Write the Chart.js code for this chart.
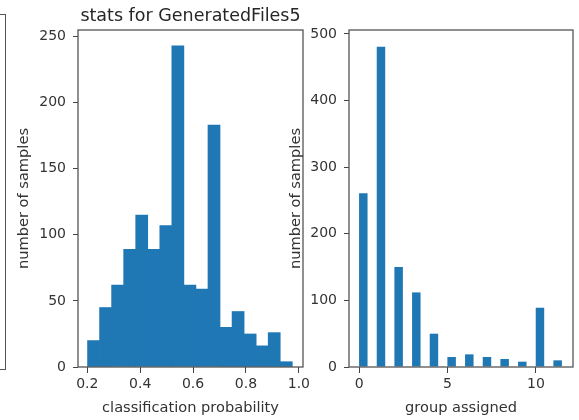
<!DOCTYPE html>
<html>
<head>
<meta charset="utf-8">
<script src="https://cdn.jsdelivr.net/npm/chart.js@4"></script>
<style>
  body { margin: 0; background: #fff; width: 579px; height: 420px; position: relative; overflow: hidden; }
  canvas { position: absolute; top: 0; }
  #leftChart { left: 8px; }
  #rightChart { left: 280px; }
  #cutBox { position: absolute; left: -20px; top: 14px; width: 24px; height: 354px; border: 1.3px solid #555; }
</style>
</head>
<body>
<div id="cutBox"></div>
<canvas id="leftChart" width="315" height="420"></canvas>
<canvas id="rightChart" width="299" height="420"></canvas>
<script>
// classification probability histogram (bin centres)
const probBins = [0.2238, 0.2693, 0.3148, 0.3604, 0.4059, 0.4514, 0.4970, 0.5425, 0.5880,
                  0.6336, 0.6791, 0.7246, 0.7701, 0.8157, 0.8612, 0.9067, 0.9523];
const probCounts = [20, 45, 62, 89, 115, 89, 107, 243, 62, 59, 183, 30, 42, 25, 16, 26, 4];
const probTicksX = [0.2, 0.4, 0.6, 0.8, 1.0];
const probTicksY = [0, 50, 100, 150, 200, 250];

// group assigned histogram (bar centres)
const groupBins = [0.23, 1.23, 2.23, 3.23, 4.23, 5.23, 6.23, 7.23, 8.23, 9.23, 10.23, 11.23];
const groupCounts = [261, 481, 150, 112, 50, 15, 19, 15, 12, 8, 89, 10];
const groupTicksX = [0, 5, 10];
const groupTicksY = [0, 100, 200, 300, 400, 500];

const blue = '#1f77b4';
const textColor = '#333';
const fontFam = '"DejaVu Sans", sans-serif';

// box around the plot area + optional title
const boxPlugin = {
  id: 'box',
  afterDraw(chart, args, opts) {
    const a = chart.chartArea, ctx = chart.ctx;
    ctx.save();
    ctx.strokeStyle = '#555';
    ctx.lineWidth = 1.3;
    ctx.strokeRect(a.left, a.top, a.right - a.left, a.bottom - a.top);
    if (opts.text) {
      ctx.fillStyle = '#262626';
      ctx.font = '17.5px ' + fontFam;
      ctx.textAlign = 'center';
      ctx.textBaseline = 'alphabetic';
      ctx.fillText(opts.text, (a.left + a.right) / 2, 21);
    }
    ctx.restore();
  }
};

function makeHist(id, xs, ys, xTicks, yTicks, opt) {
  const ctx = document.getElementById(id).getContext('2d');
  return new Chart(ctx, {
    type: 'bar',
    data: {
      datasets: [{
        data: xs.map((x, i) => ({ x: x, y: ys[i] })),
        backgroundColor: blue,
        borderWidth: 0,
        barPercentage: opt.barPct,
        categoryPercentage: 1
      }]
    },
    options: {
      responsive: false,
      animation: false,
      layout: { padding: { top: 30, right: opt.padRight, left: 0, bottom: 0 } },
      plugins: {
        legend: { display: false },
        tooltip: { enabled: false },
        box: { text: opt.title }
      },
      scales: {
        x: {
          type: 'linear',
          offset: false,
          min: opt.xMin,
          max: opt.xMax,
          afterBuildTicks: s => { s.ticks = xTicks.map(v => ({ value: v })); },
          afterFit: s => { s.height = 53; },
          grid: { drawOnChartArea: false, drawTicks: true, tickLength: 6, tickColor: '#444', offset: false },
          border: { display: false },
          ticks: {
            color: textColor, padding: 3, maxRotation: 0, autoSkip: false,
            font: { family: fontFam, size: 14 },
            callback: v => opt.xFmt(v)
          },
          title: {
            display: true, text: opt.xLabel, color: textColor,
            font: { family: fontFam, size: 14.6 },
            padding: { top: 0, bottom: 3 }
          }
        },
        y: {
          min: 0,
          max: opt.yMax,
          afterBuildTicks: s => { s.ticks = yTicks.map(v => ({ value: v })); },
          afterFit: s => { s.width = opt.yWidth; },
          grid: { drawOnChartArea: false, drawTicks: true, tickLength: 5, tickColor: '#444' },
          border: { display: false },
          ticks: {
            color: textColor, padding: 7, autoSkip: false,
            font: { family: fontFam, size: 14 }
          },
          title: {
            display: true, text: 'number of samples', color: textColor,
            font: { family: fontFam, size: 14.6 },
            padding: { top: 7, bottom: 0 }
          }
        }
      }
    },
    plugins: [boxPlugin]
  });
}

makeHist('leftChart', probBins, probCounts, probTicksX, probTicksY, {
  barPct: 1, xMin: 0.165, xMax: 1.0155, yMax: 255, yWidth: 70, padRight: 20,
  title: 'stats for GeneratedFiles5', xLabel: 'classification probability',
  xFmt: v => v.toFixed(1)
});

makeHist('rightChart', groupBins, groupCounts, groupTicksX, groupTicksY, {
  barPct: 0.48, xMin: -0.58, xMax: 12.1, yMax: 506, yWidth: 69, padRight: 6,
  title: '', xLabel: 'group assigned',
  xFmt: v => String(v)
});
</script>
</body>
</html>
